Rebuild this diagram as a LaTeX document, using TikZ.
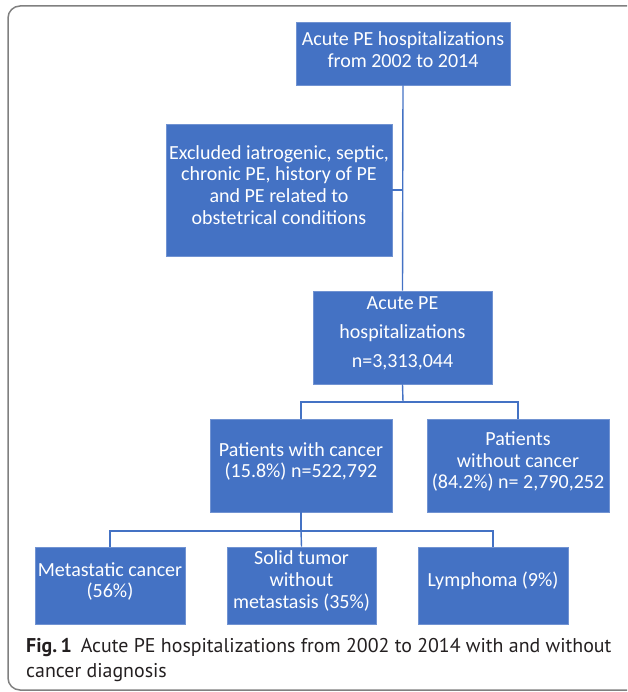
\documentclass[tikz,border=0pt]{standalone}
\usepackage{fontspec}
\setmainfont{Carlito}
\newfontfamily\capfont{PT Sans}
\usetikzlibrary{calc}
\definecolor{boxblue}{HTML}{4472C4}
\definecolor{edgeblue}{HTML}{7193D2}
\definecolor{framegray}{HTML}{808080}
\definecolor{captext}{HTML}{231F20}
\begin{document}
\begin{tikzpicture}[x=1pt,y=-1pt,
  box/.style={draw=edgeblue, line width=0.6pt, fill=boxblue, inner sep=0pt},
  txt/.style={text=white, align=center, font=\fontsize{20}{21.8}\selectfont, inner sep=0pt},
  conn/.style={draw=boxblue, line width=1.4pt},
  captxt/.style={text=captext, font=\capfont\fontsize{19.9}{21}\selectfont, inner sep=0pt, anchor=base west}]
\useasboundingbox (0,0) rectangle (627,692);
\clip (0,0) rectangle (627,692);
\draw[framegray, line width=1.5pt, rounded corners=12pt] (8,6) rectangle (660,690);
% boxes
\node[box, minimum width=214pt, minimum height=63pt] (b1) at (403,53.5) {};
\node[box, minimum width=226pt, minimum height=132pt] (b2) at (279,190) {};
\node[box, minimum width=179pt, minimum height=93pt] (b3) at (402.5,337.5) {};
\node[box, minimum width=182pt, minimum height=93pt] (b4) at (301,465.5) {};
\node[box, minimum width=182pt, minimum height=93pt] (b5) at (518,465.5) {};
\node[box, minimum width=150pt, minimum height=77pt] (b6) at (110,585.5) {};
\node[box, minimum width=149pt, minimum height=77pt] (b7) at (301.5,585.5) {};
\node[box, minimum width=150pt, minimum height=77pt] (b8) at (493,585.5) {};
% texts
\node[txt] (t1) at (403,49.5) {Acute PE hospitalizations\\from 2002 to 2014};
\node[txt] (t2) at (279,185) {Excluded iatrogenic, septic,\\chronic PE, history of PE\\and PE related to\\obstetrical conditions};
\node[txt, font=\fontsize{20}{29}\selectfont] (t3) at (402.5,333) {Acute PE\\hospitalizations\\n=3,313,044};
\node[txt] (t4) at (301,461.5) {Patients with cancer\\(15.8\%) n=522,792};
\node[txt] (t5) at (518,461.5) {Patients\\without cancer\\(84.2\%) n= 2,790,252};
\node[txt] (t6) at (110,581.5) {Metastatic cancer\\(56\%)};
\node[txt] (t7) at (301.5,581) {Solid tumor\\without\\metastasis (35\%)};
\node[txt] (t8) at (493,581) {Lymphoma (9\%)};
% connectors
\coordinate (j1) at (403,402);
\coordinate (j2) at (301,531);
\coordinate (k2) at (403,190);
\draw[conn] (b1.south) -- (b3.north);
\draw[conn] (b2.east) -- (k2);
\draw[conn] (b3.south) -- (j1);
\draw[conn] (b4.north) |- (j1) -| (b5.north);
\draw[conn] (b4.south) -- (j2);
\draw[conn] (b6.north) |- (j2) -| (b8.north);
\draw[conn] (j2) -- (b7.north);
% caption
\node[captxt] (cap1) at (26,652) {{\bfseries Fig.\,1}\hspace{9pt}Acute PE hospitalizations from 2002 to 2014 with and without};
\node[captxt] (cap2) at (26,677) {cancer diagnosis};
\end{tikzpicture}
\end{document}
